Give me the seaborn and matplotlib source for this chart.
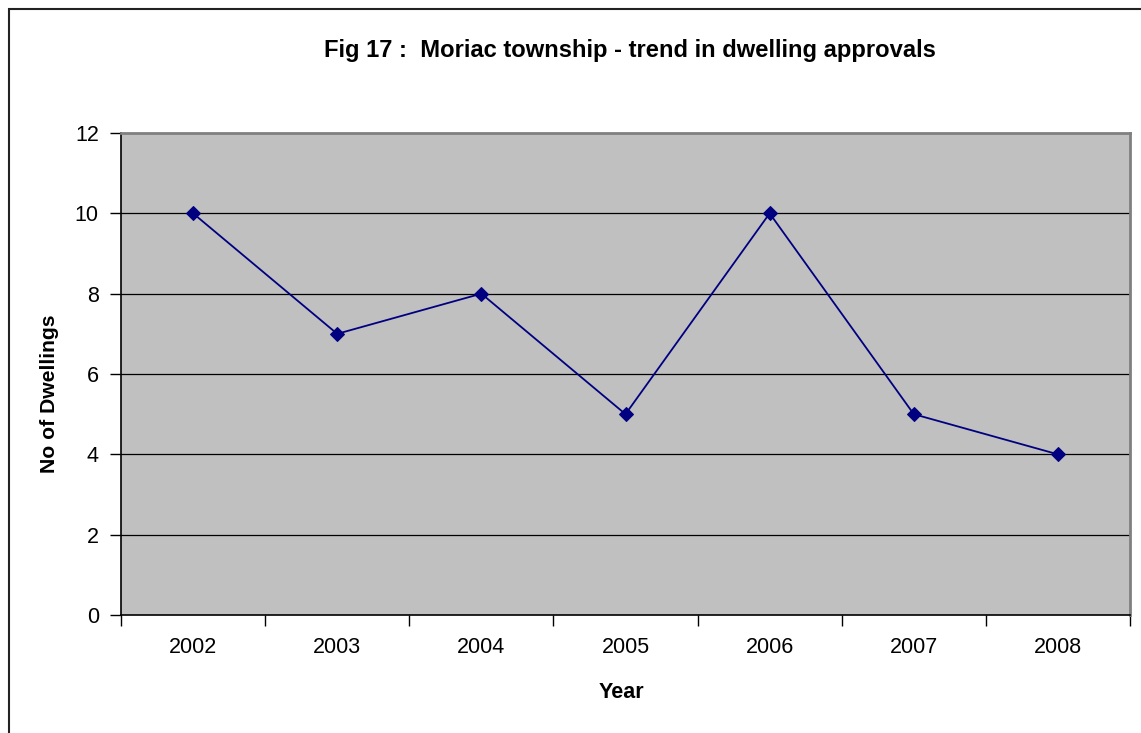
import numpy as np
import pandas as pd
import seaborn as sns
import matplotlib.pyplot as plt
from matplotlib.patches import Rectangle
from matplotlib.ticker import FixedLocator, NullFormatter

# Data
years = ["2002", "2003", "2004", "2005", "2006", "2007", "2008"]
dwellings = [10, 7, 8, 5, 10, 5, 4]

df = pd.DataFrame({"pos": np.arange(len(years)), "dwellings": dwellings})

sns.set_theme(style="white")
plt.rcParams['font.family'] = ['Liberation Sans', 'DejaVu Sans']
plt.rcParams['text.color'] = 'black'
plt.rcParams['xtick.color'] = 'black'
plt.rcParams['ytick.color'] = 'black'

fig = plt.figure(figsize=(11.41, 7.33), dpi=100)
ax = fig.add_axes([121 / 1141, 118 / 733, (1130 - 121) / 1141, (615 - 133) / 733])
ax.set_facecolor('#c0c0c0')

# Horizontal gridlines
for y in range(2, 12, 2):
    ax.axhline(y, color='black', lw=0.9, zorder=1)

sns.lineplot(data=df, x="pos", y="dwellings", ax=ax, color='#000080', lw=1.3,
             marker='D', markersize=7, markeredgecolor='#000080', zorder=3)

ax.set_xlim(-0.5, len(years) - 0.5)
ax.set_ylim(0, 12)
ax.set_yticks(range(0, 13, 2))

# category ticks at boundaries, labels at centres
ax.xaxis.set_major_locator(FixedLocator(np.arange(-0.5, len(years), 1.0)))
ax.xaxis.set_major_formatter(NullFormatter())
ax.xaxis.set_minor_locator(FixedLocator(np.arange(len(years))))
ax.set_xticklabels(years, minor=True)
ax.tick_params(axis='x', which='major', direction='out', length=8, width=1, color='black', bottom=True)
ax.tick_params(axis='x', which='minor', length=0, pad=16, labelsize=15.5, bottom=True)
ax.tick_params(axis='y', direction='out', length=8, width=1, color='black', left=True,
               labelsize=15.5, pad=8)

for side in ['left', 'bottom']:
    ax.spines[side].set_color('black')
    ax.spines[side].set_linewidth(1.2)
for side in ['top', 'right']:
    ax.spines[side].set_color('#808080')
    ax.spines[side].set_linewidth(2)

ax.set_xlabel("")
ax.set_ylabel("")
fig.text(621 / 1141, 1 - 692 / 733, "Year", ha='center', va='center',
         fontsize=15.5, fontweight='bold')
fig.text(50 / 1141, 1 - 394 / 733, "No of Dwellings", ha='center', va='center',
         rotation=90, fontsize=15.2, fontweight='bold')
fig.text(630 / 1141, 1 - 50 / 733, "Fig 17 :  Moriac township - trend in dwelling approvals",
         ha='center', va='center', fontsize=17.1, fontweight='bold')

# outer chart frame
fig.patches.append(Rectangle((9 / 1141, -0.05), 1.1, 1 - 9 / 733 + 0.05,
                             transform=fig.transFigure, fill=False,
                             edgecolor='#222222', lw=1.5))

fig.savefig("out.png", dpi=100)
